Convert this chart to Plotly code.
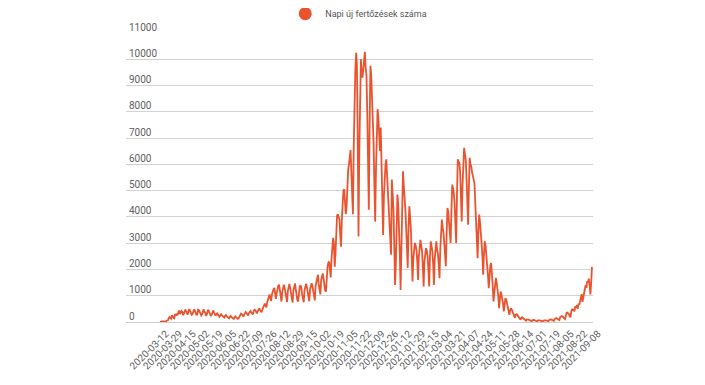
import pandas as pd
import plotly.graph_objects as go

SERIES_NAME = "Napi új fertőzések száma"
START_DATE = "2020-03-12"
END_DATE = "2021-09-08"
MISSING_DATE = "2021-07-10"

TICK_LABELS = [
    "2020-03-12", "2020-03-29", "2020-04-15", "2020-05-02", "2020-05-19",
    "2020-06-05", "2020-06-22", "2020-07-09", "2020-07-26", "2020-08-12",
    "2020-08-29", "2020-09-15", "2020-10-02", "2020-10-19", "2020-11-05",
    "2020-11-22", "2020-12-09", "2020-12-26", "2021-01-12", "2021-01-29",
    "2021-02-15", "2021-03-04", "2021-03-21", "2021-04-07", "2021-04-24",
    "2021-05-11", "2021-05-28", "2021-06-14", "2021-07-01", "2021-07-19",
    "2021-08-05", "2021-08-22", "2021-09-08",
]

Y_TICKS = [0, 1000, 2000, 3000, 4000, 5000, 6000, 7000, 8000, 9000, 10000, 11000]
Y_TICK_TEXT = ["0", "1000", "2000", "3000", "4000", "5000", "6000", "7000",
               "8000", "9000", "10000", "11000"]

DAILY_CASES = [
    4, 19, 13, 22, 27, 26, 29,
    31, 31, 59, 66, 143, 186, 144,
    123, 263, 186, 160, 143, 308, 245,
    321, 254, 419, 440, 300, 350, 420,
    380, 260, 320, 450, 470, 400, 310,
    280, 430, 490, 410, 360, 270, 300,
    440, 480, 420, 330, 260, 310, 470,
    450, 400, 320, 250, 290, 430, 480,
    390, 350, 240, 280, 420, 460, 380,
    330, 230, 270, 410, 440, 370, 310,
    240, 290, 330, 280, 230, 200, 260,
    300, 250, 220, 180, 170, 240, 270,
    210, 190, 150, 140, 200, 230, 190,
    160, 130, 120, 170, 210, 180, 150,
    120, 140, 190, 250, 320, 300, 240,
    200, 280, 350, 380, 330, 290, 250,
    340, 400, 420, 360, 310, 290, 420,
    470, 450, 380, 330, 400, 500, 520,
    460, 400, 370, 480, 560, 650, 700,
    620, 560, 750, 880, 950, 1050, 900,
    800, 1050, 1200, 1250, 1300, 1150, 880,
    1100, 1350, 1380, 1420, 1200, 850, 780,
    1150, 1350, 1420, 1300, 1100, 820, 760,
    1180, 1400, 1450, 1280, 1050, 800, 740,
    1200, 1380, 1470, 1250, 1000, 830, 780,
    1150, 1350, 1400, 1300, 1050, 850, 750,
    1200, 1420, 1460, 1330, 1100, 860, 790,
    1250, 1450, 1480, 1350, 1150, 900, 820,
    1380, 1550, 1700, 1800, 1400, 1100, 1050,
    1600, 1800, 1850, 1650, 1350, 1200, 1150,
    1900, 2100, 2250, 2300, 2000, 1700, 2400,
    2900, 3200, 3000, 2100, 2600, 3900, 4050,
    4100, 4000, 3900, 3300, 2870, 3900, 4600,
    5000, 5050, 4700, 4100, 4400, 5400, 5800,
    6000, 6300, 6550, 5700, 4600, 4100, 6700,
    8600, 9600, 10250, 9800, 7000, 3250, 6500,
    9200, 10000, 9500, 9300, 9600, 10150, 10280,
    9700, 9400, 8000, 6000, 4270, 7500, 9750,
    9400, 8600, 7800, 6800, 5200, 3820, 5800,
    7200, 8100, 7800, 7000, 6500, 7400, 5600,
    4200, 3310, 4800, 5800, 6000, 6190, 5550,
    5200, 4800, 4200, 3200, 2560, 5420, 5000,
    4300, 3000, 1410, 2200, 4100, 4850, 4500,
    3700, 2600, 1220, 2800, 4600, 5740, 5200,
    4850, 4300, 3600, 2700, 2060, 3600, 4400,
    4000, 3510, 2500, 1540, 2400, 2900, 3010,
    2900, 2750, 2300, 1600, 2500, 3000, 3130,
    2900, 2700, 2100, 1350, 2300, 2700, 2810,
    2700, 2500, 2000, 1350, 2500, 3070, 2900,
    2700, 2200, 1410, 2400, 3000, 3070, 2750,
    2600, 2200, 1670, 2800, 3500, 3900, 3600,
    3400, 3000, 2500, 2120, 3400, 4340, 4200,
    3900, 3500, 3010, 4200, 5230, 5100, 4910,
    4500, 3700, 3010, 4800, 6190, 6100, 6060,
    5700, 4800, 3830, 5200, 6300, 6630, 6400,
    6190, 5500, 4600, 3700, 5100, 6250, 6000,
    5930, 5700, 5500, 5420, 5300, 4500, 3300,
    2800, 2430, 3500, 4090, 3800, 3500, 3000,
    2500, 1800, 2600, 3070, 2900, 2600, 2300,
    1800, 1290, 1900, 2150, 2240, 1900, 1400,
    780, 1200, 1550, 1680, 1500, 1300, 1000,
    530, 900, 1160, 1050, 900, 700, 400,
    750, 910, 850, 700, 530, 400, 270,
    450, 520, 470, 400, 330, 230, 160,
    280, 300, 270, 230, 190, 140, 90,
    160, 180, 150, 130, 110, 80, 50,
    100, 110, 90, 80, 60, 40, 30,
    70, 80, 75, 65, 50, 35, 25,
    60, 70, 65, 55, 45, 30, 25,
    55, 70, 65, 60, 50, 35, 30,
    75, 95, 100, 90, 80, 60, 45,
    110, 140, 150, 130, 120, 90, 70,
    190, 220, 230, 210, 190, 140, 110,
    300, 340, 360, 330, 300, 220, 180,
    420, 480, 450, 470, 400, 600, 550,
    640, 500, 700, 650, 830, 900, 1060,
    760, 950, 1100, 1250, 1400, 1300, 1550,
    1500, 1650, 1400, 1050, 1500, 2100,
]

dates = [d for d in pd.date_range(START_DATE, END_DATE).strftime("%Y-%m-%d") if d != MISSING_DATE]
n = min(len(dates), len(DAILY_CASES))
dates = dates[:n]
values = DAILY_CASES[:n]

LINE_COLOR = "#E9542F"
TEXT_COLOR = "#606060"
FONT = "Roboto"

fig = go.Figure()
fig.add_trace(go.Scatter(
    x=dates, y=values, mode="lines",
    line=dict(color=LINE_COLOR, width=1.8),
    showlegend=False, hoverinfo="x+y",
))
fig.add_trace(go.Scatter(
    x=[dates[0]], y=[None], mode="markers",
    marker=dict(color=LINE_COLOR, size=13, symbol="circle"),
    name=SERIES_NAME, showlegend=True,
))

# the page body has an 8px margin, so the figure is drawn 8px smaller
fig.update_layout(
    width=697, height=377,
    margin=dict(l=118, r=112, t=25, b=63, autoexpand=False),
    paper_bgcolor="white", plot_bgcolor="white",
    font=dict(family=FONT, size=10, color=TEXT_COLOR),
    legend=dict(
        orientation="h", x=0.341, xanchor="left",
        yref="container", y=0.985, yanchor="middle",
        font=dict(family=FONT, size=9, color="#555555"),
        bgcolor="rgba(0,0,0,0)",
    ),
    xaxis=dict(
        type="category",
        categoryorder="array", categoryarray=dates,
        tickmode="array", tickvals=TICK_LABELS, ticktext=TICK_LABELS,
        tickangle=-45,
        range=[-42.8, 545.3],
        showgrid=False, showline=False, zeroline=False, ticks="",
        automargin=False,
        ticklabelshift=6,
        ticklabelstandoff=3,
        tickfont=dict(family=FONT, size=10, color=TEXT_COLOR),
    ),
    yaxis=dict(
        range=[0, 11000],
        tickmode="array", tickvals=Y_TICKS, ticktext=Y_TICK_TEXT,
        showgrid=True, gridcolor="#d2d2d2", gridwidth=1,
        zeroline=True, zerolinecolor="#cccccc", zerolinewidth=1,
        showline=False, ticks="", ticklen=0,
        automargin=False,
        ticklabelposition="inside",
        ticklabeloverflow="allow",
        ticklabelshift=-6,
        ticklabelstandoff=0,
        tickfont=dict(family=FONT, size=10, color=TEXT_COLOR),
    ),
)

fig.write_html("out.html")
